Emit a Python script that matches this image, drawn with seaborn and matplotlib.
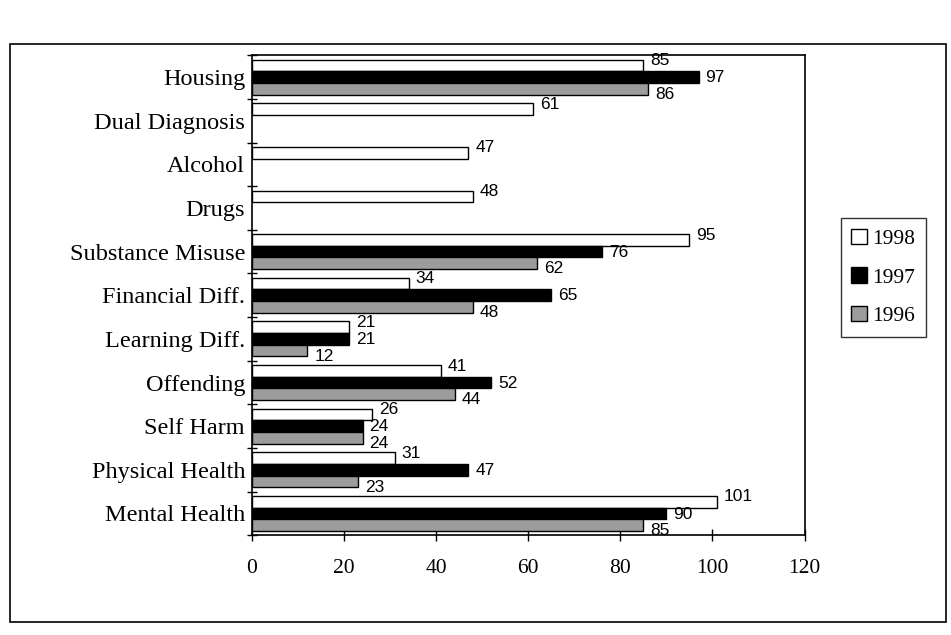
import numpy as np
import pandas as pd
import matplotlib
matplotlib.use("Agg")
import matplotlib.pyplot as plt
import seaborn as sns
from matplotlib.patches import Rectangle, Patch

categories = ["Housing", "Dual Diagnosis", "Alcohol", "Drugs", "Substance Misuse",
              "Financial Diff.", "Learning Diff.", "Offending", "Self Harm",
              "Physical Health", "Mental Health"]
v1998 = [85, 61, 47, 48, 95, 34, 21, 41, 26, 31, 101]
v1997 = [97, np.nan, np.nan, np.nan, 76, 65, 21, 52, 24, 47, 90]
v1996 = [86, np.nan, np.nan, np.nan, 62, 48, 12, 44, 24, 23, 85]
years = ["1998", "1997", "1996"]
xticks = [0, 20, 40, 60, 80, 100, 120]

rows = []
for yr, vals in zip(years, [v1998, v1997, v1996]):
    for c, v in zip(categories, vals):
        rows.append({"Category": c, "Year": yr, "Value": v})
df = pd.DataFrame(rows).dropna()

sns.set_theme(style="white")
plt.rcParams["font.family"] = ["Liberation Serif", "DejaVu Serif"]
plt.rcParams["text.color"] = "black"
plt.rcParams["xtick.color"] = "black"
plt.rcParams["ytick.color"] = "black"

fig = plt.figure(figsize=(9.51, 6.35), dpi=100)
ax = fig.add_axes([0.265, 0.157, 0.581, 0.756])

palette = {"1998": "white", "1997": "black", "1996": "#9c9c9c"}
sns.barplot(data=df, y="Category", x="Value", hue="Year", order=categories,
            hue_order=years, palette=palette, edgecolor="black", linewidth=1,
            width=0.8, orient="h", ax=ax, legend=False, errorbar=None)

dys = [3.5, -0.5, -4.0]
for cont, dy in zip(ax.containers, dys):
    for p in cont.patches:
        w = p.get_width()
        if np.isnan(w):
            continue
        ax.annotate(f"{int(round(w))}", (w, p.get_y() + p.get_height() / 2),
                    xytext=(5, dy), textcoords="offset points",
                    ha="left", va="center", fontsize=12.5,
                    family=["Liberation Sans", "DejaVu Sans"], color="black")

ax.set_xlim(0, 120)
ax.set_xticks(xticks)
ax.set_xticklabels([str(t) for t in xticks], fontsize=15.5)
ax.set_xlabel("")
ax.set_ylabel("")
ax.tick_params(axis="y", length=0, labelsize=17.5, pad=5, labelcolor="black")
ax.tick_params(axis="x", direction="inout", length=8, width=1, color="black",
               pad=13, bottom=True, labelcolor="black")
ax.set_yticks(np.arange(len(categories) + 1) - 0.5, minor=True)
ax.tick_params(axis="y", which="minor", direction="inout", length=7, width=1,
               color="black", left=True)
for s in ax.spines.values():
    s.set_visible(True)
    s.set_color("black")
    s.set_linewidth(1.2)

handles = [Patch(facecolor=palette[y], edgecolor="black", label=y) for y in years]
leg = fig.legend(handles=handles, loc="center left", bbox_to_anchor=(0.884, 0.563),
                 frameon=True, fontsize=15.5, handlelength=0.7, handleheight=0.7,
                 handletextpad=0.25, labelspacing=0.85, borderpad=0.5,
                 borderaxespad=0, fancybox=False, labelcolor="black")
leg.get_frame().set_edgecolor("black")
leg.get_frame().set_linewidth(1)

fig.patches.append(Rectangle((0.01, 0.02), 0.985, 0.91, transform=fig.transFigure,
                             fill=False, edgecolor="black", linewidth=1.2))

fig.savefig("out.png", dpi=100, facecolor="white")
